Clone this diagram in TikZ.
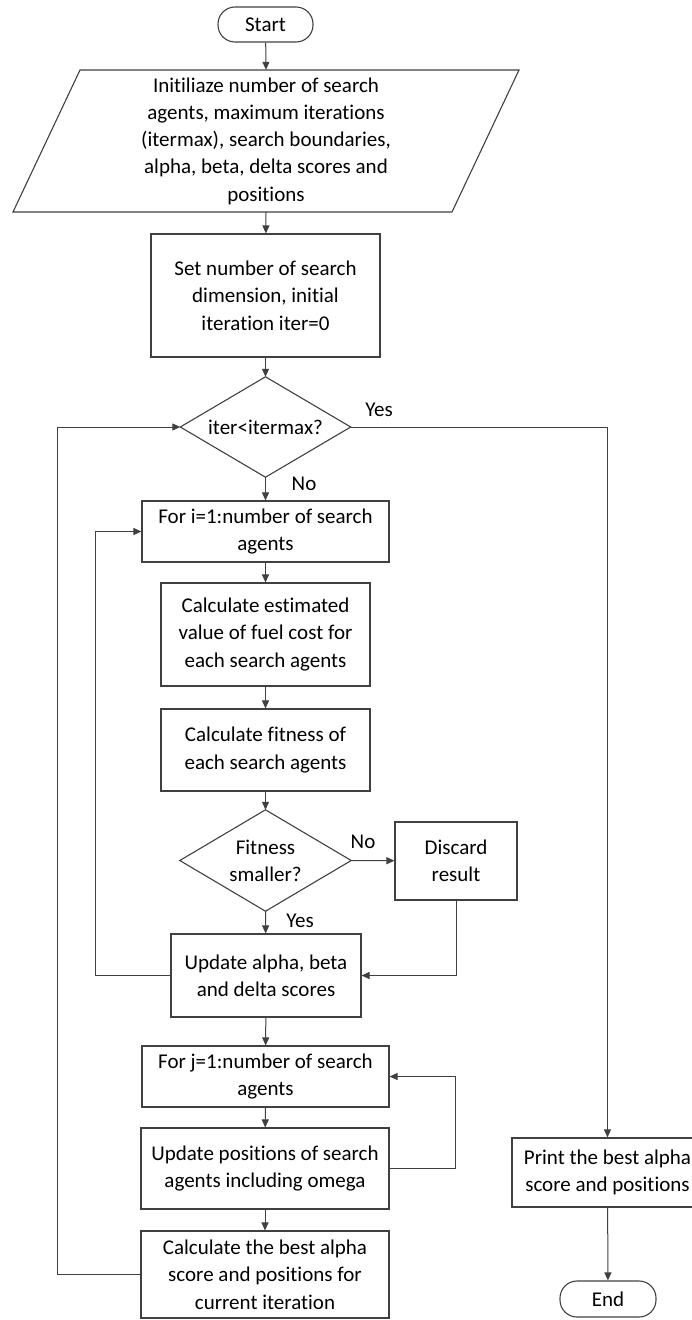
\documentclass[tikz,border=0pt]{standalone}
\usepackage{fontspec}
\setmainfont{Carlito}[Ligatures=NoCommon]
\usetikzlibrary{arrows.meta}
\definecolor{lc}{HTML}{404040}
\begin{document}
\begin{tikzpicture}[x=1pt,y=-1pt,
  every node/.style={font=\fontsize{21}{27.3}\selectfont, text=black},
  box/.style={draw=lc, line width=1.1pt, rectangle, align=center, inner sep=0pt},
  term/.style={box, rounded corners=17pt},
  dec/.style={rectangle, align=center, inner sep=0pt},
  shapeline/.style={draw=lc, line width=1.1pt},
  lbl/.style={inner sep=0pt},
  conn/.style={draw=lc, line width=1pt},
  arr/.style={conn, -{Triangle[length=8pt,width=7pt]}}]
\useasboundingbox (0,0) rectangle (692,1320);

\node[term, minimum width=95pt, minimum height=35pt] (start) at (265.5,24.5) {Start};
\node[inner sep=0pt, minimum width=439pt, minimum height=142pt, align=center] (init) at (266,141)
  {Initiliaze number of search\\agents, maximum iterations\\(itermax), search boundaries,\\alpha, beta, delta scores and\\positions};
\draw[shapeline] (80,70) -- (519,70) -- (452,212) -- (13,212) -- cycle;
\node[box, minimum width=229pt, minimum height=123pt] (set) at (265.5,295.5)
  {Set number of search\\dimension, initial\\iteration iter=0};
\node[dec, minimum width=170pt, minimum height=100pt] (dec1) at (265.5,427) {iter<itermax?};
\draw[shapeline] (dec1.north) -- (dec1.east) -- (dec1.south) -- (dec1.west) -- cycle;
\node[box, minimum width=247pt, minimum height=61pt] (fori) at (265.5,531.5)
  {For i=1:number of search\\agents};
\node[box, minimum width=209pt, minimum height=103pt] (calc1) at (265.5,634.5)
  {Calculate estimated\\value of fuel cost for\\each search agents};
\node[box, minimum width=209pt, minimum height=82pt] (fit) at (265.5,750)
  {Calculate fitness of\\each search agents};
\node[dec, minimum width=171pt, minimum height=101pt] (dec2) at (265.5,860.5) {Fitness\\smaller?};
\draw[shapeline] (dec2.north) -- (dec2.east) -- (dec2.south) -- (dec2.west) -- cycle;
\node[box, minimum width=122pt, minimum height=78pt] (discard) at (456,861) {Discard\\result};
\node[box, minimum width=190pt, minimum height=83pt] (update) at (266,975.5)
  {Update alpha, beta\\and delta scores};
\node[box, minimum width=247pt, minimum height=61pt] (forj) at (265.5,1076.5)
  {For j=1:number of search\\agents};
\node[box, minimum width=248pt, minimum height=81pt] (updpos) at (265,1168.5)
  {Update positions of search\\agents including omega};
\node[box, minimum width=248pt, minimum height=87pt] (best) at (265,1274.5)
  {Calculate the best alpha\\score and positions for\\current iteration};
\node[box, minimum width=191pt, minimum height=69pt] (print) at (607.5,1172.5)
  {Print the best alpha\\score and positions};
\node[term, minimum width=96pt, minimum height=36pt] (end) at (608,1299) {End};

\coordinate (yesc) at (607.5,427);
\coordinate (disc) at (456,975.5);
\coordinate (li1) at (95,975.5);
\coordinate (li2) at (95,531.5);
\coordinate (lj1) at (455,1168.5);
\coordinate (lj2) at (455,1076.5);
\coordinate (lo1) at (57,1274.5);
\coordinate (lo2) at (57,427);

\draw[arr] (start) -- (init.north);
\draw[arr] (init.south) -- (set);
\draw[arr] (set) -- (dec1.north);
\draw[arr] (dec1.south) -- (fori);
\draw[arr] (dec1.east) -- (yesc) -- (print.north);
\draw[arr] (fori) -- (calc1);
\draw[arr] (calc1) -- (fit);
\draw[arr] (fit) -- (dec2.north);
\draw[arr] (dec2.south) -- (update);
\draw[arr] (dec2.east) -- (discard);
\draw[arr] (discard.south) -- (disc) -- (update.east);
\draw[arr] (update.west) -- (li1) -- (li2) -- (fori.west);
\draw[arr] (update) -- (forj);
\draw[arr] (forj) -- (updpos);
\draw[arr] (updpos.east) -- (lj1) -- (lj2) -- (forj.east);
\draw[arr] (updpos) -- (best);
\draw[arr] (best.west) -- (lo1) -- (lo2) -- (dec1.west);
\draw[arr] (print) -- (end);

\node[lbl] (l1) at (379,410) {Yes};
\node[lbl] (l2) at (304,484) {No};
\node[lbl] (l3) at (363,842) {No};
\node[lbl] (l4) at (300,921) {Yes};
\end{tikzpicture}
\end{document}
